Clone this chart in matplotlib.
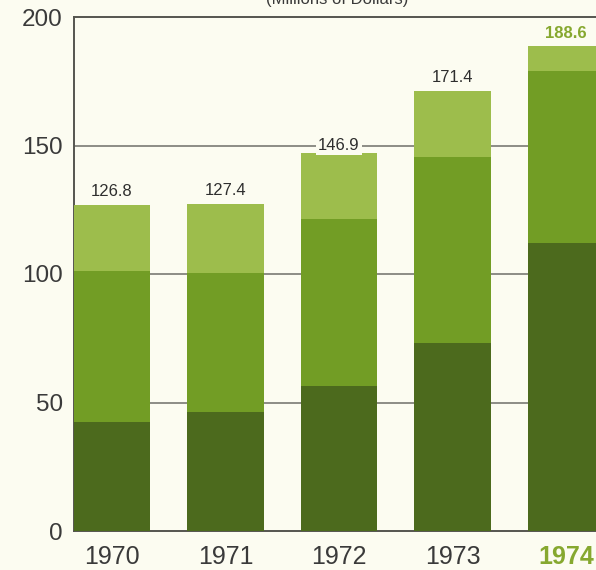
import matplotlib
matplotlib.use("Agg")
import matplotlib.pyplot as plt
import numpy as np

plt.rcParams['font.family'] = ['Liberation Sans', 'DejaVu Sans']

years = ['1970', '1971', '1972', '1973', '1974']
base = [42.4, 46.3, 56.4, 73.3, 112.2]          # lower segment
middle = [58.6, 54.1, 65.0, 72.3, 66.8]         # middle segment
totals = [126.8, 127.4, 146.9, 171.4, 188.6]    # full bar height
y_ticks = [0, 50, 100, 150, 200]

bg = '#fcfcf1'
c_dark = '#4c6a1d'
c_mid = '#729d25'
c_light = '#9dbd4c'
c_accent = '#86a82f'
c_text = '#3a3a3a'

fig = plt.figure(figsize=(5.96, 5.70), dpi=100, facecolor=bg)
ax = fig.add_axes([74 / 596, 39 / 570, 1 - 74 / 596, 514 / 570], facecolor=bg)

x = np.arange(len(years))
w = 0.67
top = [t - b - m for t, b, m in zip(totals, base, middle)]
mid_bottom = base
top_bottom = [b + m for b, m in zip(base, middle)]

ax.bar(x, base, width=w, color=c_dark, zorder=3)
ax.bar(x, middle, width=w, bottom=mid_bottom, color=c_mid, zorder=3)
ax.bar(x, top, width=w, bottom=top_bottom, color=c_light, zorder=3)

# horizontal rules behind the bars
for yv in y_ticks[1:-1]:
    ax.axhline(yv, color='#6e6e68', lw=1.1, zorder=1)

ax.set_xlim(-w / 2, (596 - 112) / 113.5)
ax.set_ylim(0, 200)
ax.set_yticks(y_ticks)
ax.set_yticklabels([str(v) for v in y_ticks], fontsize=17.5, color=c_text)
ax.set_xticks(x)
ax.set_xticklabels(years, fontsize=18, color=c_text)
ax.get_xticklabels()[-1].set_color(c_accent)
ax.get_xticklabels()[-1].set_fontweight('bold')
ax.tick_params(axis='both', length=0)
ax.tick_params(axis='y', pad=8)
ax.tick_params(axis='x', pad=10)

for s in ['left', 'top', 'bottom']:
    ax.spines[s].set_color('#55554f')
    ax.spines[s].set_linewidth(1.4)
ax.spines['right'].set_visible(False)

# value labels above each bar
for i, t in enumerate(totals):
    last = i == len(totals) - 1
    grid_hit = [g for g in y_ticks[1:-1] if 0 < g - t < 5]
    if grid_hit:
        ax.text(i, grid_hit[0], f'{t:.1f}', ha='center', va='center',
                fontsize=12, color='#2e2e2e', zorder=4,
                bbox=dict(facecolor=bg, edgecolor='none', pad=1.5))
    else:
        ax.annotate(f'{t:.1f}', (i, t), xytext=(0, 9.5), textcoords='offset points',
                    ha='center', va='center', fontsize=12,
                    color=c_accent if last else '#2e2e2e',
                    fontweight='bold' if last else 'normal', zorder=4)

fig.text(337 / 596, 1 - 4 / 570, '(Millions of Dollars)', ha='center', va='baseline',
         fontsize=12, color=c_text)

fig.savefig('out.png', dpi=100, facecolor=bg)
